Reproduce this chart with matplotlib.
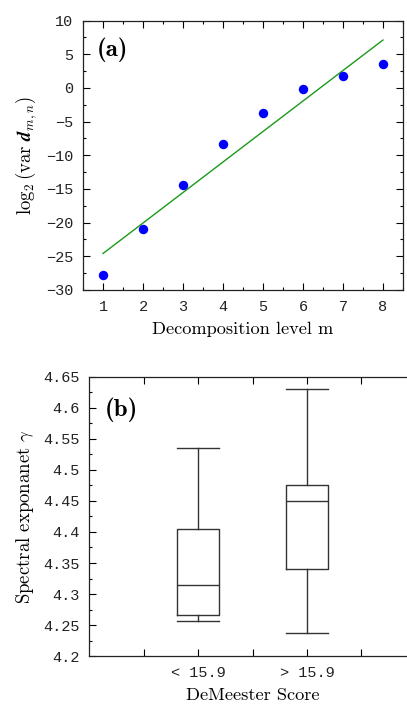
import matplotlib
matplotlib.use('Agg')
import matplotlib.pyplot as plt
from matplotlib.ticker import MultipleLocator, FormatStrFormatter

plt.rcParams['mathtext.fontset'] = 'cm'

# ── datos ────────────────────────────────────────────────────────────────────
niveles = [1, 2, 3, 4, 5, 6, 7, 8]
log2_var = [-27.8, -21.0, -14.4, -8.4, -3.7, -0.2, 1.8, 3.5]
ajuste_x = [1, 8]
ajuste_y = [-24.6, 7.1]

grupos = ['< 15.9', '> 15.9']
bigote_inf = [4.256, 4.238]
q1 = [4.267, 4.340]
mediana = [4.315, 4.450]
q3 = [4.404, 4.476]
bigote_sup = [4.535, 4.630]

mono = 'Liberation Mono'
cm = 'cmr10'

fig = plt.figure(figsize=(4.07, 7.07), dpi=100)

# ── (a) ──────────────────────────────────────────────────────────────────────
ax = fig.add_axes([0.204, 0.590, 0.786, 0.381])
ax.plot(ajuste_x, ajuste_y, color='#1a9a1a', linewidth=1.0)
ax.plot(niveles, log2_var, 'o', color='#0000ff', markersize=6.8, markeredgewidth=0)
ax.set_xlim(0.5, 8.5)
ax.set_ylim(-30, 10)
ax.xaxis.set_major_locator(MultipleLocator(1))
ax.xaxis.set_minor_locator(MultipleLocator(0.5))
ax.yaxis.set_major_locator(MultipleLocator(5))
ax.yaxis.set_minor_locator(MultipleLocator(2.5))
ax.set_xlabel('Decomposition level m', fontfamily=cm, fontsize=13.2, labelpad=6)
ax.set_ylabel(r'$\log_2(\mathrm{var}\ \boldsymbol{d}_{m,n})$', fontsize=13.5, labelpad=5)
ax.text(0.044, 0.936, '(a)', transform=ax.transAxes, fontfamily='cmb10',
        fontsize=18, va='top', ha='left')

# ── (b) ──────────────────────────────────────────────────────────────────────
bx = fig.add_axes([0.219, 0.072, 0.803, 0.395])
stats = []
for i in range(len(grupos)):
    stats.append(dict(whislo=bigote_inf[i], q1=q1[i], med=mediana[i],
                      q3=q3[i], whishi=bigote_sup[i], fliers=[]))
estilo = dict(color='#333333', linewidth=1.0)
bx.bxp(stats, positions=[1, 2], widths=0.39, showfliers=False,
       boxprops=estilo, whiskerprops=estilo, capprops=estilo,
       medianprops=estilo, capwidths=0.39)
bx.set_xlim(0, 3)
bx.set_ylim(4.2, 4.65)
bx.set_xticks([0.5, 1, 1.5, 2, 2.5])
bx.set_xticklabels(['', grupos[0], '', grupos[1], ''])
bx.yaxis.set_major_locator(MultipleLocator(0.05))
bx.yaxis.set_minor_locator(MultipleLocator(0.025))
bx.yaxis.set_major_formatter(FormatStrFormatter('%g'))
bx.set_xlabel('DeMeester Score', fontfamily=cm, fontsize=13.2, labelpad=6)
bx.set_ylabel(r'Spectral exponanet $\gamma$', fontfamily=cm, fontsize=13.5, labelpad=5)
bx.text(0.049, 0.925, '(b)', transform=bx.transAxes, fontfamily='cmb10',
        fontsize=18, va='top', ha='left')

for a in (ax, bx):
    a.tick_params(which='both', direction='in', top=True, right=True,
                  labelsize=11, width=0.8, pad=7)
    a.tick_params(which='major', length=5)
    a.tick_params(which='minor', length=2.5)
    for lbl in a.get_xticklabels() + a.get_yticklabels():
        lbl.set_fontfamily(mono)
        lbl.set_color('#222222')
    for s in a.spines.values():
        s.set_linewidth(0.9)
        s.set_color('#222222')

fig.savefig('out.png', dpi=100)
